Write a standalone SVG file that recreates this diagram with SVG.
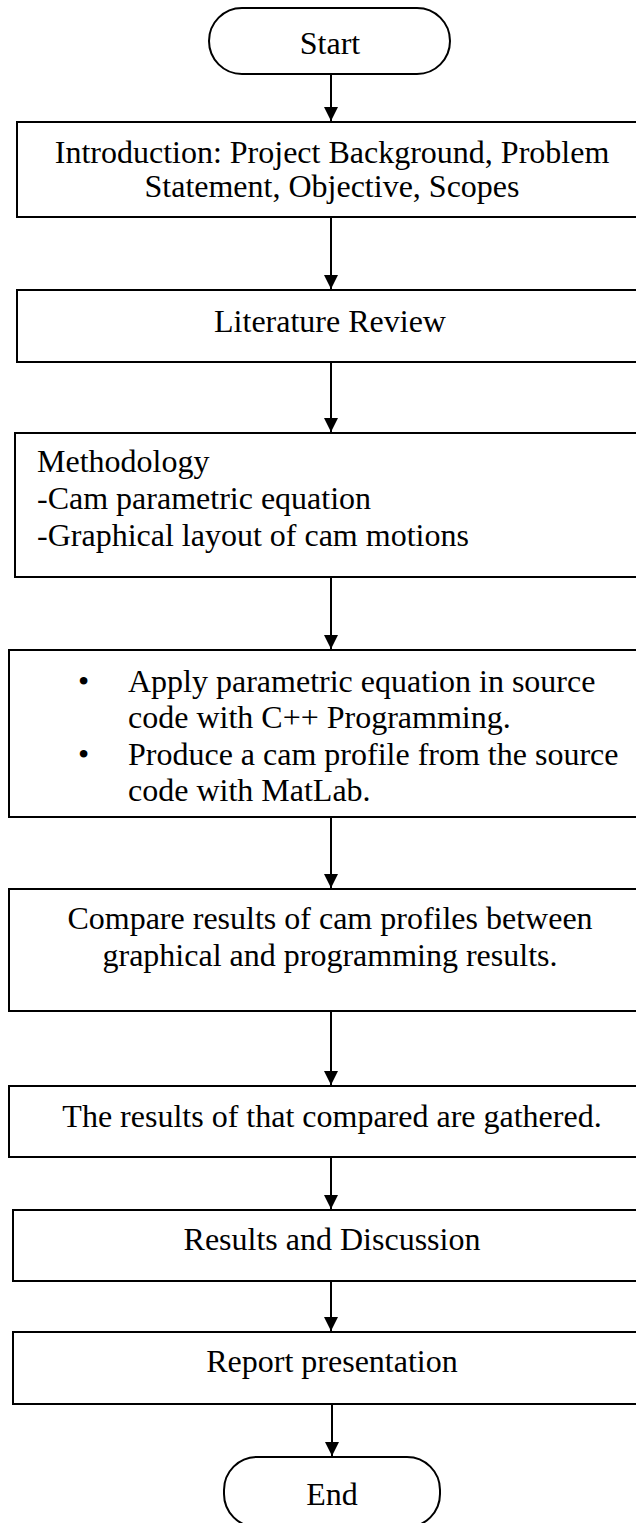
<svg xmlns="http://www.w3.org/2000/svg" width="636" height="1523" viewBox="0 0 636 1523">
<style>
.box{fill:#fff;stroke:#000;stroke-width:2}
.t{font-family:"Liberation Serif","Times New Roman",serif;font-size:32px;fill:#000}
.c{text-anchor:middle}
.ln{stroke:#000;stroke-width:2;fill:none}
</style>
<defs>
<marker id="ah" markerWidth="14" markerHeight="14" refX="14" refY="7" orient="auto" markerUnits="userSpaceOnUse" viewBox="0 0 14 14">
<path d="M0,0 L14,7 L0,14 Z" fill="#000"/>
</marker>
</defs>
<g id="connectors">
<line class="ln" x1="331" y1="74" x2="331" y2="121" marker-end="url(#ah)"/>
<line class="ln" x1="331" y1="217" x2="331" y2="289" marker-end="url(#ah)"/>
<line class="ln" x1="331" y1="362" x2="331" y2="432" marker-end="url(#ah)"/>
<line class="ln" x1="331" y1="577" x2="331" y2="649" marker-end="url(#ah)"/>
<line class="ln" x1="331" y1="817" x2="331" y2="888" marker-end="url(#ah)"/>
<line class="ln" x1="331" y1="1011" x2="331" y2="1085" marker-end="url(#ah)"/>
<line class="ln" x1="331" y1="1157" x2="331" y2="1209" marker-end="url(#ah)"/>
<line class="ln" x1="331" y1="1281" x2="331" y2="1331" marker-end="url(#ah)"/>
<line class="ln" x1="332" y1="1404" x2="332" y2="1456" marker-end="url(#ah)"/>
</g>
<g id="start">
<rect class="box" x="209" y="8" width="241" height="66" rx="33" ry="33"/>
<text class="t c" x="330" y="54">Start</text>
</g>
<g id="intro">
<rect class="box" x="17" y="122" width="630" height="95"/>
<text class="t c" x="332" y="163">Introduction: Project Background, Problem</text>
<text class="t c" x="332" y="197">Statement, Objective, Scopes</text>
</g>
<g id="literature">
<rect class="box" x="17" y="290" width="630" height="72"/>
<text class="t c" x="330" y="332">Literature Review</text>
</g>
<g id="methodology">
<rect class="box" x="15" y="433" width="632" height="144"/>
<text class="t" x="37" y="472">Methodology</text>
<text class="t" x="37" y="509">-Cam parametric equation</text>
<text class="t" x="37" y="546">-Graphical layout of cam motions</text>
</g>
<g id="apply">
<rect class="box" x="9" y="650" width="638" height="167"/>
<text class="t" x="78" y="692">•</text>
<text class="t" x="128" y="692">Apply parametric equation in source</text>
<text class="t" x="128" y="728">code with C++ Programming.</text>
<text class="t" x="78" y="765">•</text>
<text class="t" x="128" y="765">Produce a cam profile from the source</text>
<text class="t" x="128" y="801">code with MatLab.</text>
</g>
<g id="compare">
<rect class="box" x="9" y="889" width="638" height="122"/>
<text class="t c" x="330" y="929">Compare results of cam profiles between</text>
<text class="t c" x="330" y="966">graphical and programming results.</text>
</g>
<g id="gathered">
<rect class="box" x="9" y="1086" width="638" height="71"/>
<text class="t c" x="332" y="1127">The results of that compared are gathered.</text>
</g>
<g id="discussion">
<rect class="box" x="13" y="1210" width="634" height="71"/>
<text class="t c" x="332" y="1250">Results and Discussion</text>
</g>
<g id="report">
<rect class="box" x="13" y="1332" width="634" height="72"/>
<text class="t c" x="332" y="1372">Report presentation</text>
</g>
<g id="end">
<rect class="box" x="224" y="1457" width="216" height="70" rx="33" ry="33"/>
<text class="t c" x="332" y="1505">End</text>
</g>
</svg>
